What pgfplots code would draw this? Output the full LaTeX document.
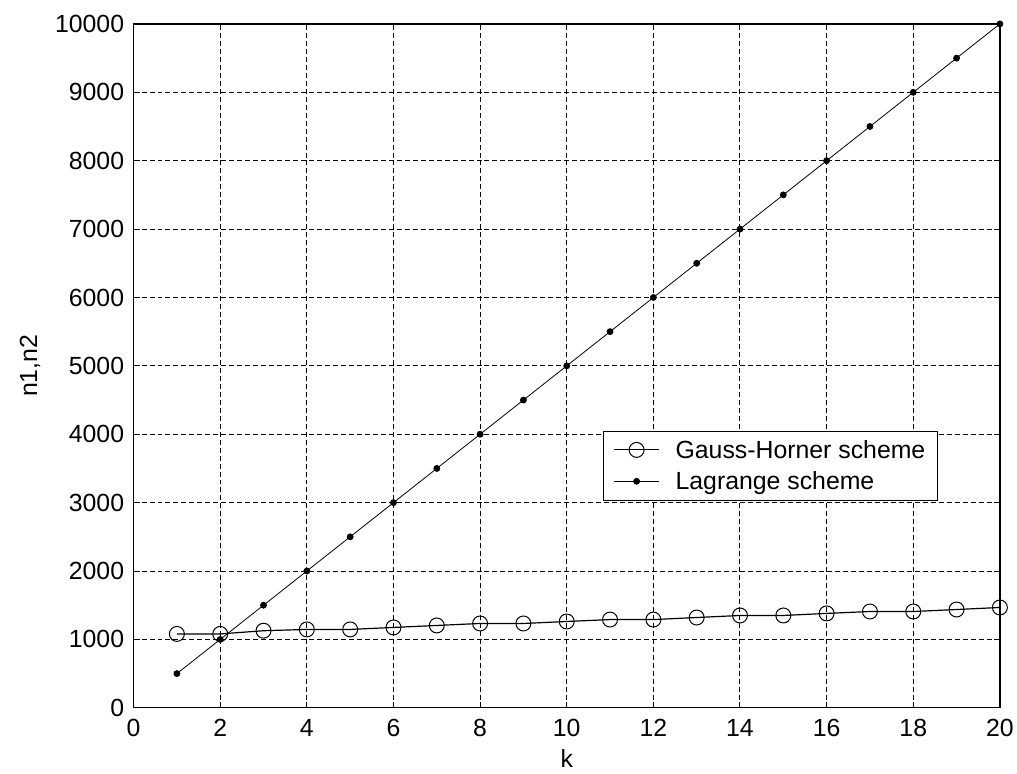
\documentclass[border=0pt]{standalone}
\usepackage{pgfplots}
\pgfplotsset{compat=1.18}
\usepackage{fontspec}
\setmainfont{Liberation Sans}
\begin{document}
\begin{tikzpicture}
\begin{axis}[
  scale only axis,
  width=869bp, height=686bp,
  xmin=0, xmax=20, ymin=0, ymax=10000,
  xtick={0,2,...,20}, ytick={0,1000,...,10000},
  /pgf/number format/assume math mode=true,
  /pgf/number format/1000 sep={},
  scaled y ticks=false,
  tick label style={font=\fontsize{25}{28}\selectfont},
  label style={font=\fontsize{25}{28}\selectfont},
  xlabel={k}, ylabel={n1,n2},
  xlabel style={yshift=-6bp},
  ylabel style={yshift=8bp},
  xticklabel style={yshift=-8bp},
  yticklabel style={xshift=-6bp},
  tick align=inside, major tick length=6bp,
  tick style={black, line width=1bp},
  axis line style={line width=1.3bp},
  grid=major,
  major grid style={black, line width=1bp, dash pattern=on 5bp off 3bp},
  legend style={at={(axis cs:10.84,4052)}, anchor=north west, draw=black, line width=1bp,
    font=\fontsize{25}{34}\selectfont, inner xsep=10bp, inner ysep=7bp, row sep=8bp,
    /tikz/every odd column/.append style={column sep=14bp}},
  legend cell align=left,
  legend image code/.code={\draw[mark repeat=2,mark phase=2] plot coordinates {(0bp,0bp)(22.5bp,0bp)(45bp,0bp)};},
]
\addplot[black, line width=1.2bp, mark=o, mark size=7.5bp, mark options={line width=1bp}] coordinates {
(1,1080)(2,1080)(3,1127)(4,1146)(5,1146)(6,1175)(7,1204)(8,1233)(9,1233)(10,1262)
(11,1290)(12,1290)(13,1320)(14,1350)(15,1350)(16,1380)(17,1408)(18,1408)(19,1437)(20,1467)};
\addlegendentry{Gauss-Horner scheme}
\addplot[black, line width=0.8bp, mark=*, mark size=3bp] coordinates {
(1,500)(2,1000)(3,1500)(4,2000)(5,2500)(6,3000)(7,3500)(8,4000)(9,4500)(10,5000)
(11,5500)(12,6000)(13,6500)(14,7000)(15,7500)(16,8000)(17,8500)(18,9000)(19,9500)(20,10000)};
\addlegendentry{Lagrange scheme}
\end{axis}
\useasboundingbox (current axis.south west) ++(-134bp,-66bp) rectangle ++(1017bp,776bp);
\end{tikzpicture}
\end{document}
